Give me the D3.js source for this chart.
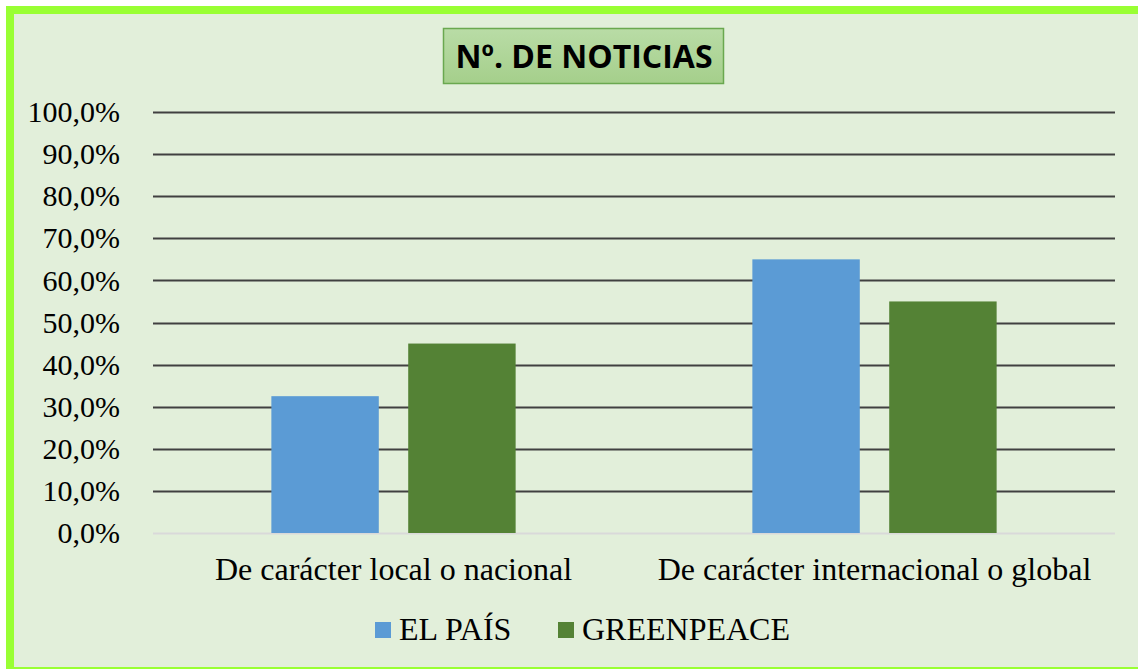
<!DOCTYPE html>
<html>
<head>
<meta charset="utf-8">
<script src="https://cdn.jsdelivr.net/npm/d3@7"></script>
<style>
  body { margin: 0; background: #fff; }
  svg { display: block; }
</style>
</head>
<body>
<div id="canvas"></div>
<script>
const categories = ["De carácter local o nacional", "De carácter internacional o global"];
const seriesNames = ["EL PAÍS", "GREENPEACE"];
const elPais = [32.5, 65.0];
const greenpeace = [45.0, 55.0];
const yTicks = [0, 10, 20, 30, 40, 50, 60, 70, 80, 90, 100];
const colors = ["#5b9bd5", "#548235"];

const width = 1138;
const height = 669;
const margin = { top: 112, left: 153, bottom: 136, right: 23 };
const iwidth = width - margin.left - margin.right;
const iheight = height - margin.top - margin.bottom;

const svg = d3.select("#canvas").append("svg")
  .attr("width", width)
  .attr("height", height);

// frame
svg.append("rect")
  .attr("x", 10).attr("y", 10)
  .attr("width", 1140).attr("height", 661)
  .style("fill", "#e2efda")
  .style("stroke", "#99ff33")
  .style("stroke-width", 8);

// title box
const defs = svg.append("defs");
const grad = defs.append("linearGradient")
  .attr("id", "tgrad").attr("x1", 0).attr("y1", 0).attr("x2", 0).attr("y2", 1);
grad.append("stop").attr("offset", "0%").attr("stop-color", "#b9dca6");
grad.append("stop").attr("offset", "100%").attr("stop-color", "#a5cf8b");

svg.append("rect")
  .attr("x", 443.5).attr("y", 28.5)
  .attr("width", 280).attr("height", 55)
  .style("fill", "url(#tgrad)")
  .style("stroke", "#6aa84f")
  .style("stroke-width", 1.5);

svg.append("text")
  .attr("x", 584).attr("y", 68)
  .attr("text-anchor", "middle")
  .style("font-family", "'Open Sans', 'Liberation Sans', sans-serif")
  .style("font-weight", "bold")
  .style("font-size", "32px")
  .style("fill", "#000")
  .text("Nº. DE NOTICIAS");

const g = svg.append("g")
  .attr("transform", `translate(${margin.left}, ${margin.top})`);

const y = d3.scaleLinear().domain([0, 100]).range([iheight, 0]);

const x0 = d3.scaleBand().domain(categories).range([0, iwidth]).padding(0);
const x1 = d3.scaleBand().domain(seriesNames).range([0, x0.bandwidth()])
  .paddingInner(0.215).paddingOuter(0.865);

// gridlines
g.append("g")
  .selectAll("line")
  .data(yTicks)
  .enter()
  .append("line")
  .attr("x1", 0).attr("x2", iwidth)
  .attr("y1", (d) => Math.round(y(d)) + 0.5)
  .attr("y2", (d) => Math.round(y(d)) + 0.5)
  .style("stroke", (d) => (d === 0 ? "#d9d9d9" : "#404040"))
  .style("stroke-width", 2);

// y axis labels
const yAxis = g.append("g").call(
  d3.axisLeft(y).tickValues(yTicks).tickSize(0).tickPadding(33)
    .tickFormat((d) => d3.format(".1f")(d).replace(".", ",") + "%")
);
yAxis.select(".domain").remove();
yAxis.selectAll("text")
  .style("font-family", "'Liberation Serif', 'Times New Roman', serif")
  .style("font-size", "30px")
  .style("fill", "#000");

// bars
const rows = categories.map((c, i) => ({
  cat: c,
  vals: [
    { name: seriesNames[0], v: elPais[i], c: colors[0] },
    { name: seriesNames[1], v: greenpeace[i], c: colors[1] },
  ],
}));

const groups = g.selectAll(".grp").data(rows).enter().append("g")
  .attr("class", "grp")
  .attr("transform", (d) => `translate(${x0(d.cat)}, 0)`);

groups.selectAll("rect").data((d) => d.vals).enter().append("rect")
  .attr("x", (d) => x1(d.name))
  .attr("y", (d) => y(d.v))
  .attr("width", x1.bandwidth())
  .attr("height", (d) => iheight - y(d.v))
  .style("fill", (d) => d.c);

// x axis labels
const xAxis = g.append("g")
  .attr("transform", `translate(0, ${iheight})`)
  .call(d3.axisBottom(x0).tickSize(0).tickPadding(24));
xAxis.select(".domain").remove();
xAxis.selectAll("text")
  .style("font-family", "'Liberation Serif', 'Times New Roman', serif")
  .style("font-size", "32px")
  .style("fill", "#000");

// legend
const legendX = [375, 558];
const legend = svg.append("g");
const items = legend.selectAll("g").data(seriesNames).enter().append("g")
  .attr("transform", (d, i) => `translate(${legendX[i]}, 622)`);
items.append("rect")
  .attr("width", 16).attr("height", 16)
  .style("fill", (d, i) => colors[i]);
items.append("text")
  .attr("x", 24).attr("y", 18)
  .style("font-family", "'Liberation Serif', 'Times New Roman', serif")
  .style("font-size", "32px")
  .style("fill", "#000")
  .text((d) => d);
</script>
</body>
</html>
